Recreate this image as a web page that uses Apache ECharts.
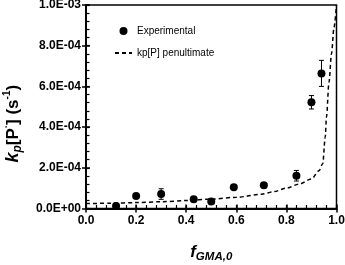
<!DOCTYPE html>
<html>
<head>
<meta charset="utf-8">
<script src="https://cdn.jsdelivr.net/npm/echarts@6/dist/echarts.min.js"></script>
<style>
html,body{margin:0;padding:0;background:#fff;}
#chart{width:345px;height:265px;}
</style>
</head>
<body>
<div id="chart"></div>
<script>
// Experimental points
const fExp = [0.12, 0.2, 0.3, 0.43, 0.5, 0.59, 0.71, 0.84, 0.9, 0.94];
const kpExp = [1.2e-5, 6.1e-5, 7.1e-5, 4.5e-5, 3.5e-5, 1.04e-4, 1.14e-4, 1.61e-4, 5.22e-4, 6.64e-4];
const kpErr = [0, 0, 2.6e-5, 0, 0, 0, 1.2e-5, 2.6e-5, 3.3e-5, 6.4e-5];
// Penultimate model curve
const fModel = [0, 0.1, 0.2, 0.3, 0.4, 0.5, 0.6, 0.7, 0.75, 0.8, 0.85, 0.9, 0.93, 0.945, 0.955, 0.96, 0.97, 0.98, 0.99, 1.0];
const kpModel = [2.4e-5, 2.6e-5, 2.9e-5, 3.3e-5, 3.9e-5, 4.6e-5, 5.5e-5, 7.0e-5, 8.3e-5, 1.0e-4, 1.2e-4, 1.45e-4, 1.85e-4, 2.2e-4, 3.5e-4, 4.5e-4, 6.2e-4, 7.6e-4, 8.9e-4, 1.0e-3];
// Tick labels
const xTickLabels = ['0.0', '0.2', '0.4', '0.6', '0.8', '1.0'];
const yTickLabels = ['0.0E+00', '2.0E-04', '4.0E-04', '6.0E-04', '8.0E-04', '1.0E-03'];
const legendNames = ['Experimental', 'kp[P] penultimate'];

const FONT = 'Liberation Sans, Arial, sans-serif';
const chart = echarts.init(document.getElementById('chart'), null, {renderer: 'canvas'});

const scatterData = fExp.map((f, i) => [f, kpExp[i]]);
const errData = fExp.map((f, i) => [f, kpExp[i], kpErr[i]]).filter(d => d[2] > 0);
const modelData = fModel.map((f, i) => [f, kpModel[i]]);

const xMin = 0, xMax = 1, xInt = 0.2, xMinorInt = 0.04;
const yMin = 0, yMax = 1e-3, yInt = 2e-4, yMinorInt = 4e-5;
const CLEAR = 'rgba(0,0,0,0)';

// helper axes: tick decoration only, sharing the same scale
function tickAxis(min, max, interval, position, inside, length, width) {
  return {
    type: 'value', min: min, max: max, interval: interval,
    position: position,
    axisLine: {show: false, onZero: false},
    axisTick: {show: true, inside: inside, length: length, lineStyle: {color: '#000', width: width}},
    axisLabel: {show: false},
    splitLine: {show: false},
    minorTick: {show: false},
    minorSplitLine: {show: false}
  };
}

const option = {
  animation: false,
  backgroundColor: '#fff',
  grid: {left: 86, right: 8.5, top: 5, bottom: 56.5, show: true, borderColor: '#000', borderWidth: 1.5, outerBoundsMode: 'none', containLabel: false},
  legend: {
    data: [
      {name: legendNames[0], icon: 'circle'},
      {name: legendNames[1], itemStyle: {color: CLEAR, borderWidth: 0, opacity: 0}}
    ],
    orient: 'vertical',
    left: 109, top: 21,
    itemWidth: 17, itemHeight: 8, itemGap: 12,
    textStyle: {fontFamily: FONT, fontSize: 10, color: '#000'}
  },
  xAxis: [{
    type: 'value', min: xMin, max: xMax, interval: xInt,
    position: 'bottom',
    axisLine: {show: true, onZero: false, lineStyle: {color: '#000', width: 2}},
    axisTick: {show: true, inside: true, length: 4, lineStyle: {color: '#000', width: 1.5}},
    minorTick: {show: false},
    splitLine: {show: false},
    minorSplitLine: {show: false},
    axisLabel: {
      margin: 6, fontFamily: FONT, fontSize: 12, fontWeight: 'bold', color: '#000',
      formatter: v => xTickLabels[Math.round((v - xMin) / xInt)]
    },
    name: '{f|f}{s|GMA,0}',
    nameLocation: 'middle', nameGap: 34,
    nameTextStyle: {
      rich: {
        f: {fontFamily: FONT, fontSize: 17, fontWeight: 'bold', fontStyle: 'italic', color: '#000', lineHeight: 20},
        s: {fontFamily: FONT, fontSize: 11.5, fontWeight: 'bold', fontStyle: 'italic', color: '#000', lineHeight: 10, verticalAlign: 'bottom'}
      }
    }
  },
    tickAxis(xMin, xMax, xInt, 'bottom', false, 4, 1.5),
    tickAxis(xMin, xMax, xMinorInt, 'bottom', true, 3.5, 1.2)
  ],
  yAxis: [{
    type: 'value', min: yMin, max: yMax, interval: yInt,
    position: 'left',
    axisLine: {show: true, onZero: false, lineStyle: {color: '#000', width: 2}},
    axisTick: {show: true, inside: true, length: 4, lineStyle: {color: '#000', width: 1.5}},
    minorTick: {show: false},
    splitLine: {show: false},
    minorSplitLine: {show: false},
    axisLabel: {
      margin: 5, fontFamily: FONT, fontSize: 12, fontWeight: 'bold', color: '#000',
      formatter: v => yTickLabels[Math.round((v - yMin) / yInt)]
    },
    name: '{k|k}{p|p}{n|[P}{sup|·}{n|] (s}{sup|-1}{n|)}',
    nameLocation: 'middle', nameGap: 62,
    nameTextStyle: {
      padding: [0, 34, 0, 0],
      rich: {
        k: {fontFamily: FONT, fontSize: 18, fontWeight: 'bold', fontStyle: 'italic', color: '#000', lineHeight: 22},
        p: {fontFamily: FONT, fontSize: 12, fontWeight: 'bold', fontStyle: 'italic', color: '#000', lineHeight: 8, verticalAlign: 'bottom'},
        n: {fontFamily: FONT, fontSize: 17, fontWeight: 'bold', color: '#000', lineHeight: 22},
        sup: {fontFamily: FONT, fontSize: 10, fontWeight: 'bold', color: '#000', lineHeight: 9, verticalAlign: 'top'}
      }
    }
  },
    tickAxis(yMin, yMax, yInt, 'left', false, 4, 1.5),
    tickAxis(yMin, yMax, yMinorInt, 'left', true, 3.5, 1.2)
  ],
  series: [{
    name: legendNames[1],
    type: 'line',
    xAxisIndex: 0, yAxisIndex: 0,
    data: modelData,
    symbol: 'none',
    smooth: 0.3, smoothMonotone: 'x',
    lineStyle: {color: '#000', width: 1.5, type: [4, 3]},
    itemStyle: {color: '#000'},
    z: 2
  }, {
    name: 'errors',
    type: 'custom',
    xAxisIndex: 0, yAxisIndex: 0,
    data: errData,
    renderItem: function (params, api) {
      const x = api.value(0), y = api.value(1), e = api.value(2);
      const top = api.coord([x, y + e]);
      const bot = api.coord([x, y - e]);
      const hw = 2.5;
      const st = {stroke: '#000', lineWidth: 1};
      return {
        type: 'group',
        children: [
          {type: 'line', shape: {x1: top[0], y1: top[1], x2: bot[0], y2: bot[1]}, style: st},
          {type: 'line', shape: {x1: top[0] - hw, y1: top[1], x2: top[0] + hw, y2: top[1]}, style: st},
          {type: 'line', shape: {x1: bot[0] - hw, y1: bot[1], x2: bot[0] + hw, y2: bot[1]}, style: st}
        ]
      };
    },
    z: 3
  }, {
    name: legendNames[0],
    type: 'scatter',
    xAxisIndex: 0, yAxisIndex: 0,
    data: scatterData,
    symbol: 'circle',
    symbolSize: 8,
    itemStyle: {color: '#000', opacity: 1},
    z: 4
  }]
};
chart.setOption(option);
</script>
</body>
</html>
